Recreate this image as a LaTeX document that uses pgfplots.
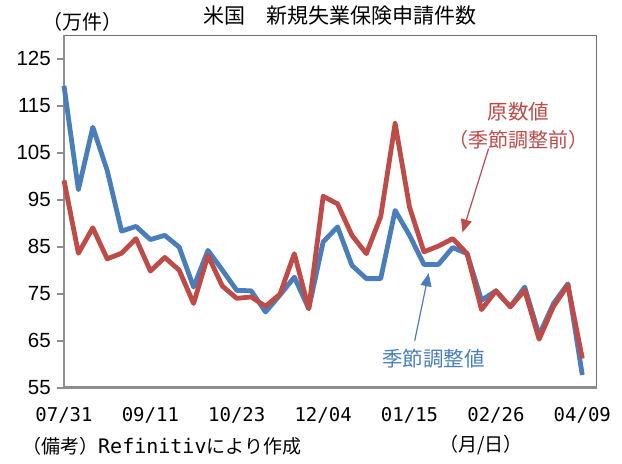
\documentclass[border=0pt]{standalone}
\usepackage{fontspec}
\setmainfont{Noto Sans CJK JP}
\newfontfamily\numfont{Liberation Sans}
\newfontfamily\monofont{DejaVu Sans Mono}
\usepackage{pgfplots}
\pgfplotsset{compat=1.18}
\usetikzlibrary{arrows.meta}
\definecolor{sblue}{HTML}{4A7EBB}
\definecolor{sred}{HTML}{BE4B48}
\definecolor{axgray}{HTML}{8C8C8C}
\definecolor{frgray}{HTML}{6E6E6E}
\begin{document}
\begin{tikzpicture}
\useasboundingbox (0,0) rectangle (622bp,464bp);
\begin{axis}[at={(64bp,76.3bp)}, anchor=south west, scale only axis,
  width=532.7bp, height=352.7bp,
  xmin=0, xmax=37, ymin=55, ymax=130,
  axis line style={draw=none},
  ytick={55,65,...,125},
  xtick={0,6,...,36},
  xticklabels={07/31,09/11,10/23,12/04,01/15,02/26,04/09},
  xtick style={draw=none},
  ytick pos=left,
  ytick style={draw=axgray, line width=2pt},
  tick align=outside, major tick length=7bp,
  /pgf/number format/assume math mode=true,
  yticklabel style={font=\numfont\fontsize{20.5bp}{20.5bp}\selectfont, inner xsep=6bp},
  xticklabel style={font=\monofont\fontsize{19bp}{19bp}\selectfont, inner ysep=12bp},
  clip=false,
]
\draw[frgray, line width=1pt] (rel axis cs:0,1) -- (rel axis cs:1,1) -- (rel axis cs:1,0);
\draw[axgray, line width=2.5pt] (rel axis cs:0,1) -- (rel axis cs:0,0) -- (rel axis cs:1,0);
\addplot[sblue, line width=4.8bp, line join=round] coordinates {
(0,119.2) (1,97.1) (2,110.4) (3,101.2) (4,88.3) (5,89.3) (6,86.5) (7,87.4) (8,84.9) (9,76.4)
(10,84.2) (11,80.0) (12,75.7) (13,75.6) (14,71.1) (15,74.7) (16,78.5) (17,71.8) (18,86.0) (19,89.2)
(20,81.0) (21,78.2) (22,78.2) (23,92.7) (24,87.4) (25,81.2) (26,81.2) (27,84.8) (28,83.5) (29,73.6)
(30,75.6) (31,72.2) (32,76.4) (33,66.2) (34,72.9) (35,77.1) (36,57.7)};
\addplot[sred, line width=4.8bp, line join=round] coordinates {
(0,99.1) (1,83.6) (2,89.0) (3,82.4) (4,83.6) (5,86.7) (6,79.8) (7,82.7) (8,80.0) (9,72.9)
(10,83.1) (11,76.6) (12,74.0) (13,74.3) (14,72.3) (15,74.9) (16,83.5) (17,71.8) (18,95.7) (19,94.1)
(20,87.4) (21,83.5) (22,91.4) (23,111.2) (24,93.4) (25,83.9) (26,85.1) (27,86.7) (28,83.5) (29,71.6)
(30,75.6) (31,72.2) (32,75.7) (33,65.3) (34,72.3) (35,76.8) (36,61.2)};
\draw[sred, line width=1.2bp, -{Triangle[length=13bp,width=11bp]}] (axis cs:29.49,105.85) -- (axis cs:27.68,88.03);
\draw[sblue, line width=1.2bp, -{Triangle[length=13bp,width=11bp]}] (axis cs:24.36,65.0) -- (axis cs:25.33,79.33);
\node[sred, font=\fontsize{20.5bp}{20.5bp}\selectfont] at (axis cs:31.57,113.68) {原数値};
\node[sred, font=\fontsize{20bp}{20bp}\selectfont] at (axis cs:31.57,107.76) {（季節調整前）};
\node[sblue, font=\fontsize{20.5bp}{20.5bp}\selectfont] at (axis cs:25.66,61.09) {季節調整値};
\end{axis}
\node[font=\fontsize{21bp}{21bp}\selectfont] at (340bp,448bp) {米国　新規失業保険申請件数};
\node[font=\fontsize{20bp}{20bp}\selectfont] at (82bp,442bp) {（万件）};
\node[font=\fontsize{19bp}{19bp}\selectfont, anchor=west, inner sep=0pt] at (22bp,18bp) {（備考）{\monofont\fontsize{20bp}{20bp}\selectfont Refinitiv}により作成};
\node[font=\fontsize{19bp}{19bp}\selectfont] at (481bp,19bp) {（月/日）};
\end{tikzpicture}
\end{document}
